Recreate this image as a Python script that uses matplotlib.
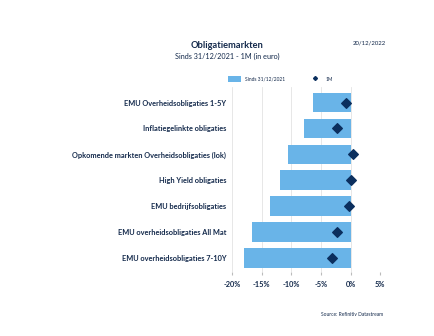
import matplotlib
matplotlib.use("Agg")
import matplotlib.pyplot as plt
from matplotlib.patches import Patch
from matplotlib.lines import Line2D

categories = [
    "EMU Overheidsobligaties 1-5Y",
    "Inflatiegelinkte obligaties",
    "Opkomende markten Overheidsobligaties (lok)",
    "High Yield obligaties",
    "EMU bedrijfsobligaties",
    "EMU overheidsobligaties All Mat",
    "EMU overheidsobligaties 7-10Y",
]
ytd = [-6.4, -7.9, -10.6, -11.9, -13.6, -16.6, -18.0]
one_month = [-0.8, -2.2, 0.5, 0.0, -0.2, -2.3, -3.1]
xticks = [-20, -15, -10, -5, 0, 5]
xticklabels = ["-20%", "-15%", "-10%", "-5%", "0%", "5%"]

NAVY = "#13294B"
BAR = "#69B4E8"
DIAM = "#0B2F5E"
FONT = ["Lato", "DejaVu Sans"]
plt.rcParams["font.family"] = FONT

fig = plt.figure(figsize=(4.35, 3.36), dpi=100)
ax = fig.add_axes([0.533, 0.190, 0.341, 0.551])

ypos = list(range(len(categories)))
ax.barh(ypos, ytd, height=0.76, color=BAR, zorder=2)
ax.scatter(one_month, ypos, marker="D", s=24, color=DIAM, zorder=3)

ax.set_xlim(-20, 5)
ax.set_ylim(6.55, -0.6)
ax.set_xticks(xticks)
ax.set_xticklabels(xticklabels, fontsize=5.3, color=NAVY, fontweight="bold")
ax.set_yticks(ypos)
ax.set_yticklabels(categories, fontsize=5.3, color=NAVY, fontweight="bold")
ax.tick_params(axis="y", length=0, pad=4)
ax.tick_params(axis="x", length=2.5, color="#BBBBBB", pad=4)
for s in ax.spines.values():
    s.set_visible(False)
ax.grid(axis="x", color="#E3E3E3", linewidth=0.6, zorder=0)
ax.set_axisbelow(True)

handles = [
    Patch(facecolor=BAR, edgecolor="none", label="Sinds 31/12/2021"),
    Line2D([], [], marker="D", linestyle="none", color=DIAM, markersize=2, label="1M"),
]
fig.legend(handles=handles, loc="center", bbox_to_anchor=(0.645, 0.765), ncol=2,
           frameon=False, fontsize=3.5, handlelength=2.6, handleheight=1.6,
           columnspacing=5, labelcolor=NAVY)

fig.text(0.522, 0.866, "Obligatiemarkten", ha="center", va="center",
         fontsize=6.7, fontweight="bold", color=NAVY)
fig.text(0.522, 0.833, "Sinds 31/12/2021 - 1M (in euro)", ha="center", va="center",
         fontsize=5.2, color=NAVY)
fig.text(0.850, 0.872, "20/12/2022", ha="center", va="center", fontsize=4.3, color=NAVY)
fig.text(0.809, 0.065, "Source: Refinitiv Datastream", ha="center", va="center",
         fontsize=3.5, color=NAVY)

fig.savefig("out.png", dpi=100)
